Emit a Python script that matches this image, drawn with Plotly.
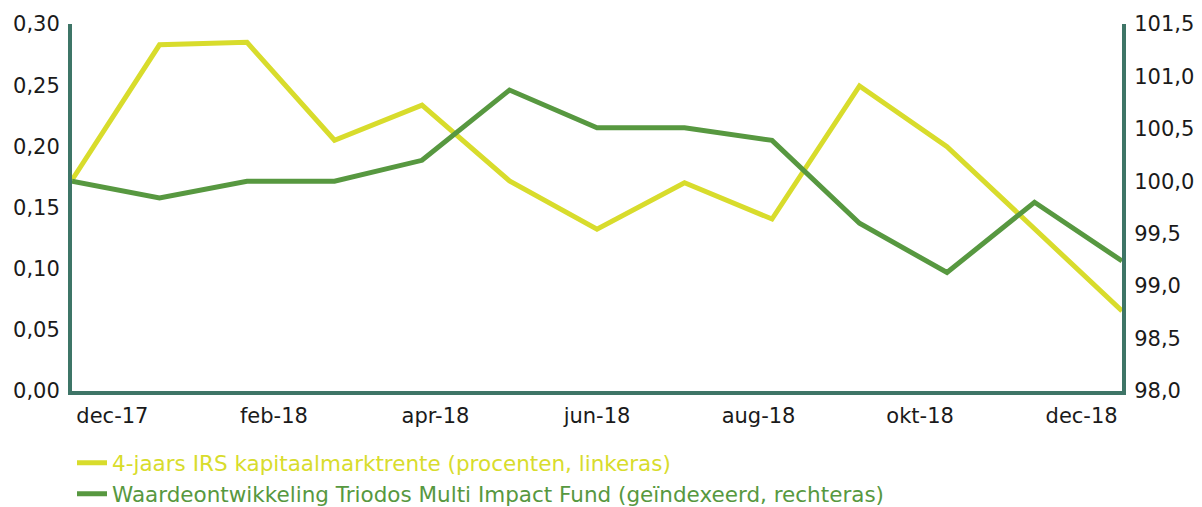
import plotly.graph_objects as go

months = ["dec-17", "jan-18", "feb-18", "mrt-18", "apr-18", "mei-18", "jun-18",
          "jul-18", "aug-18", "sep-18", "okt-18", "nov-18", "dec-18"]
irs_rate = [0.1725, 0.283, 0.285, 0.205, 0.2336, 0.1717, 0.1322,
            0.1703, 0.1406, 0.2494, 0.1998, 0.132, 0.0654]
fund_index = [100.0, 99.84, 100.0, 100.0, 100.2, 100.87, 100.51,
              100.51, 100.39, 99.6, 99.13, 99.8, 99.24]
tick_labels = ["dec-17", "feb-18", "apr-18", "jun-18", "aug-18", "okt-18", "dec-18"]
name_irs = "4-jaars IRS kapitaalmarktrente (procenten, linkeras)"
name_fund = "Waardeontwikkeling Triodos Multi Impact Fund (geïndexeerd, rechteras)"

YELLOW = "#d8dc2c"
GREEN = "#579840"
AXIS = "#3e7567"
FONT = "DejaVu Sans, sans-serif"

idx = list(range(len(months)))
n_lab = len(tick_labels)
slot = (len(months) - 1) / (n_lab - 0.5)
tickvals = [(k + 0.25) * slot for k in range(n_lab)]


def colored(text, color):
    return f"<span style='color:{color}'>{text}</span>"


fig = go.Figure()
fig.add_trace(go.Scatter(x=idx, y=irs_rate, name=colored(name_irs, YELLOW), mode="lines",
                         line=dict(color=YELLOW, width=5), yaxis="y"))
fig.add_trace(go.Scatter(x=idx, y=fund_index, name=colored(name_fund, GREEN), mode="lines",
                         line=dict(color=GREEN, width=5), yaxis="y2"))

fig.update_layout(
    width=1202, height=507,
    margin=dict(l=72, r=80, t=24, b=116, autoexpand=False),
    paper_bgcolor="white", plot_bgcolor="white",
    separators=",.",
    font=dict(family=FONT, size=21, color="#1a1a1a"),
    showlegend=True,
    legend=dict(orientation="v", x=0.0, xanchor="left", y=-0.14, yanchor="top",
                font=dict(family=FONT, size=21.5), itemwidth=30,
                tracegroupgap=0, bgcolor="rgba(0,0,0,0)"),
    xaxis=dict(range=[0, len(months) - 1], tickvals=tickvals, ticktext=tick_labels,
               showgrid=False, zeroline=False, showline=True, linecolor=AXIS,
               linewidth=4, ticks="", ticklabelstandoff=3),
    yaxis=dict(range=[0, 0.30], dtick=0.05, tickformat=".2f", showgrid=False,
               zeroline=False, showline=True, linecolor=AXIS, linewidth=4,
               ticks="", ticklabelstandoff=4),
    yaxis2=dict(range=[98, 101.5], dtick=0.5, tickformat=".1f", overlaying="y",
                side="right", showgrid=False, zeroline=False, showline=True,
                linecolor=AXIS, linewidth=4, ticks="", ticklabelstandoff=4),
)

fig.write_html("out.html", config={"displayModeBar": False},
               post_script="document.body.style.margin='0';document.body.style.padding='0';")
